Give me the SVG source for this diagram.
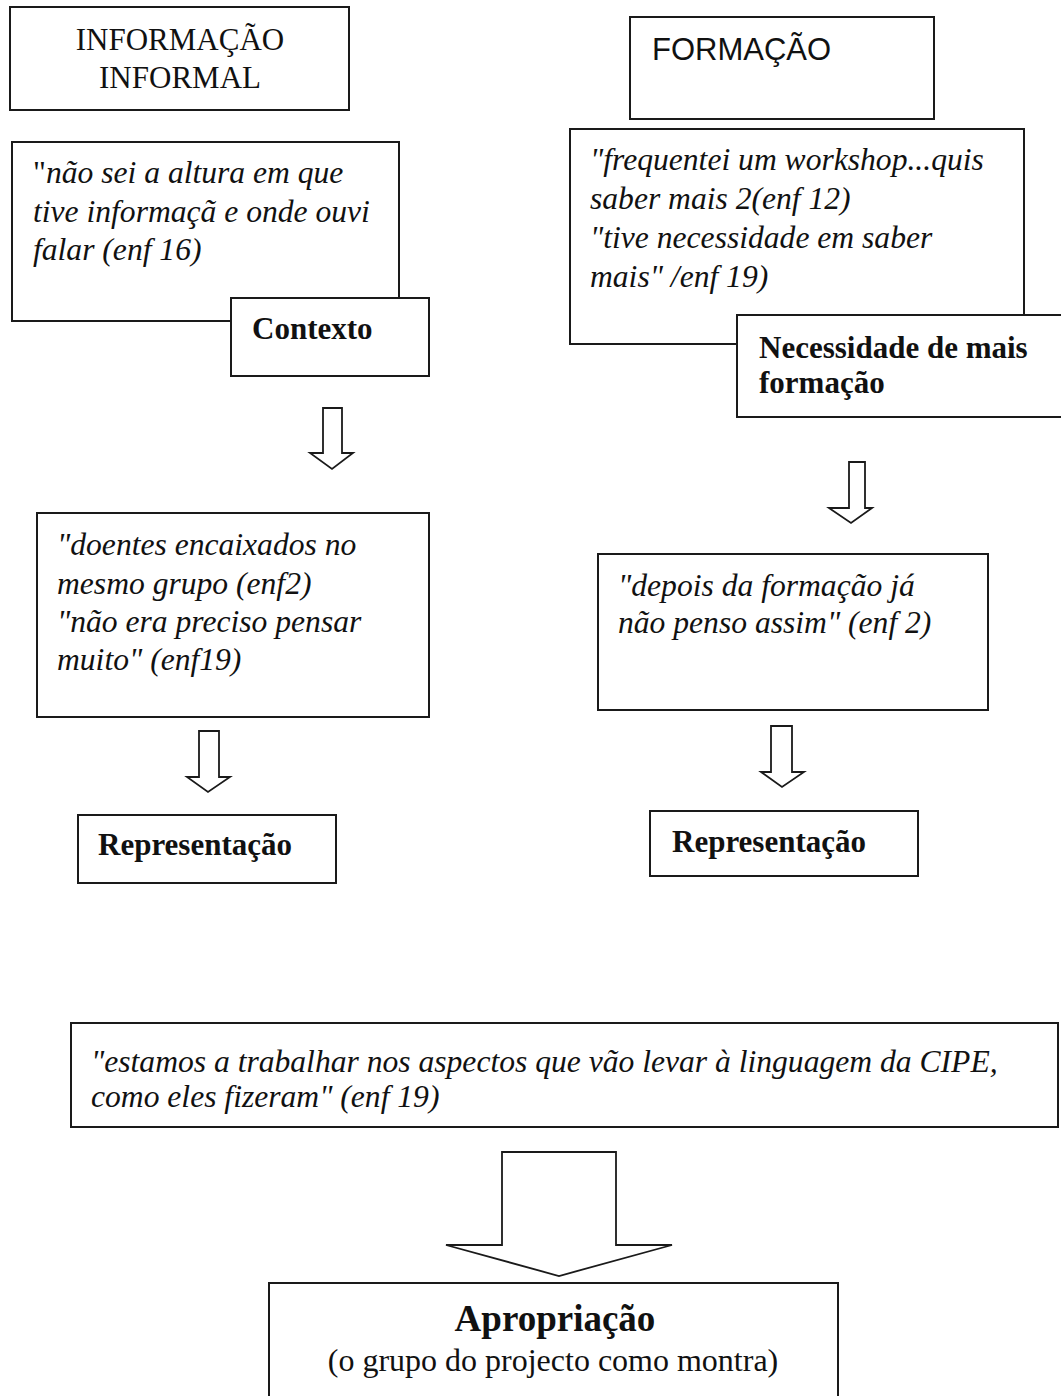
<svg xmlns="http://www.w3.org/2000/svg" width="1061" height="1396" viewBox="0 0 1061 1396">
<style>
.box{fill:#fff;stroke:#1a1a1a;stroke-width:2}
.arr{fill:#fff;stroke:#1a1a1a;stroke-width:1.8;stroke-linejoin:miter}
.serif{font-family:"Liberation Serif","Times New Roman",serif;fill:#111}
.q{font-family:"Liberation Serif","Times New Roman",serif;font-style:italic;font-size:31.6px;fill:#111}
.b{font-family:"Liberation Serif","Times New Roman",serif;font-weight:bold;font-size:31px;fill:#111}
</style>
<rect width="1061" height="1396" fill="#fff"/>

<g id="connectors">
<polygon class="arr" points="323,408 342,408 342,453 353,453 332,469 310,453 323,453"/>
<polygon class="arr" points="199,731 219,731 219,777 230,777 208,792 187,777 199,777"/>
<polygon class="arr" points="849,462 865,462 865,508 872,508 851,523 829,508 849,508"/>
<polygon class="arr" points="771,726 792,726 792,772 804,772 782,787 761,772 771,772"/>
<polygon class="arr" points="502,1152 616,1152 616,1245 672,1245 559,1276 446,1245 502,1245"/>
</g>

<g id="informacao-informal">
<rect class="box" x="10" y="7" width="339" height="103"/>
<text class="serif" font-size="31" text-anchor="middle" x="180" y="50">INFORMAÇÃO</text>
<text class="serif" font-size="31" text-anchor="middle" x="180" y="88">INFORMAL</text>
</g>

<g id="quote-nao-sei">
<rect class="box" x="12" y="142" width="387" height="179"/>
<text class="q" x="33" y="183"><tspan font-style="normal">"</tspan>não sei a altura em que</text>
<text class="q" x="33" y="222">tive informaçã e onde ouvi</text>
<text class="q" x="33" y="260">falar (enf 16)</text>
</g>

<g id="contexto">
<rect class="box" x="231" y="298" width="198" height="78"/>
<text class="b" x="252" y="339">Contexto</text>
</g>

<g id="formacao">
<rect class="box" x="630" y="17" width="304" height="102"/>
<text font-family="'Liberation Sans',Arial,sans-serif" font-size="31" fill="#111" x="652" y="60">FORMAÇÃO</text>
</g>

<g id="quote-frequentei">
<rect class="box" x="570" y="129" width="454" height="215"/>
<text class="q" x="590" y="170">"frequentei um workshop...quis</text>
<text class="q" x="590" y="209">saber mais 2(enf 12)</text>
<text class="q" x="590" y="248">"tive necessidade em saber</text>
<text class="q" x="590" y="287">mais" /enf 19)</text>
</g>

<g id="necessidade">
<rect class="box" x="737" y="315" width="340" height="102"/>
<text class="b" x="759" y="358">Necessidade de mais</text>
<text class="b" x="759" y="393">formação</text>
</g>

<g id="quote-doentes">
<rect class="box" x="37" y="513" width="392" height="204"/>
<text class="q" x="57" y="555">"doentes encaixados no</text>
<text class="q" x="57" y="594">mesmo grupo (enf2)</text>
<text class="q" x="57" y="632">"não era preciso pensar</text>
<text class="q" x="57" y="670">muito" (enf19)</text>
</g>

<g id="representacao-left">
<rect class="box" x="78" y="815" width="258" height="68"/>
<text class="b" x="98" y="855">Representação</text>
</g>

<g id="quote-depois">
<rect class="box" x="598" y="554" width="390" height="156"/>
<text class="q" x="618" y="596">"depois da formação já</text>
<text class="q" x="618" y="633">não penso assim" (enf 2)</text>
</g>

<g id="representacao-right">
<rect class="box" x="650" y="811" width="268" height="65"/>
<text class="b" x="672" y="852">Representação</text>
</g>

<g id="quote-estamos">
<rect class="box" x="71" y="1023" width="987" height="104"/>
<text class="q" x="91" y="1072" font-size="32">"estamos a trabalhar nos aspectos que vão levar à linguagem da CIPE,</text>
<text class="q" x="91" y="1107" font-size="32">como eles fizeram" (enf 19)</text>
</g>

<g id="apropriacao">
<rect class="box" x="269" y="1283" width="569" height="140"/>
<text class="serif" font-weight="bold" font-size="37" text-anchor="middle" x="555" y="1331">Apropriação</text>
<text class="serif" font-size="32" text-anchor="middle" x="553" y="1371">(o grupo do projecto como montra)</text>
</g>
</svg>
